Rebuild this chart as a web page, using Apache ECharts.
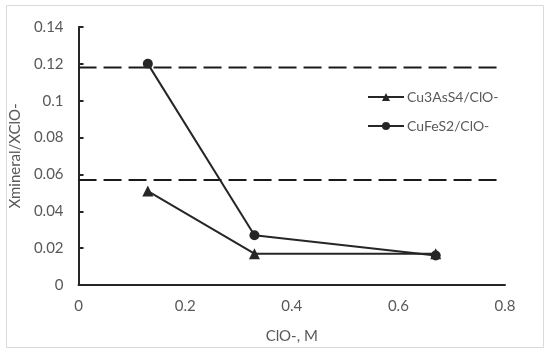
<!DOCTYPE html>
<html><head><meta charset="utf-8">
<script src="https://cdn.jsdelivr.net/npm/echarts@6/dist/echarts.min.js"></script>
<style>html,body{margin:0;padding:0;background:#fff}#c{width:550px;height:353px}</style>
</head><body><div id="c"></div>
<script>
var clo = [0.13, 0.33, 0.67];
var cu3AsS4 = [0.051, 0.017, 0.017];
var cuFeS2 = [0.12, 0.027, 0.016];
var refX = [0, 0.787];
var refUpper = 0.118;
var refLower = 0.057;
var seriesNames = ['Cu3AsS4/ClO-', 'CuFeS2/ClO-'];

function pairs(xs, ys) { return xs.map(function (x, i) { return [x, ys[i]]; }); }
function flat(xs, y) { return xs.map(function (x) { return [x, y]; }); }

var FONT = 'Lato';
var GRAY = '#595959';
var INK = '#262626';

var chart = echarts.init(document.getElementById('c'));
chart.setOption({
  animation: false,
  backgroundColor: '#fff',
  graphic: [{ type: 'rect', shape: { x: 6.5, y: 5.5, width: 537, height: 342 },
    style: { fill: 'none', stroke: '#d9d9d9', lineWidth: 1 }, silent: true }],
  grid: { left: 77, right: 45, top: 27, bottom: 68 },
  legend: {
    orient: 'vertical', left: 362, top: 85, itemWidth: 36, itemHeight: 10, itemGap: 15,
    data: seriesNames,
    textStyle: { fontFamily: FONT, fontSize: 14, color: GRAY, padding: [0, 0, 0, -2] }
  },
  xAxis: {
    type: 'value', min: 0, max: 0.8, interval: 0.2,
    name: 'ClO-, M', nameLocation: 'middle', nameGap: 44,
    nameTextStyle: { fontFamily: FONT, fontSize: 15, color: GRAY },
    axisLine: { show: true, lineStyle: { color: INK, width: 2 } },
    axisTick: { show: false },
    splitLine: { show: false },
    axisLabel: { fontFamily: FONT, fontSize: 15, color: GRAY, margin: 14 }
  },
  yAxis: {
    type: 'value', min: 0, max: 0.14, interval: 0.02,
    name: 'Xmineral/XClO-', nameLocation: 'middle', nameGap: 49,
    nameTextStyle: { fontFamily: FONT, fontSize: 15, color: GRAY },
    axisLine: { show: true, lineStyle: { color: INK, width: 2 } },
    axisTick: { show: true, inside: true, length: 5, lineStyle: { color: INK, width: 2 } },
    splitLine: { show: false },
    axisLabel: { fontFamily: FONT, fontSize: 15, color: GRAY, margin: 15 }
  },
  series: [
    { name: seriesNames[0], type: 'line', data: pairs(clo, cu3AsS4),
      symbol: 'triangle', symbolSize: 11, itemStyle: { color: INK },
      lineStyle: { color: INK, width: 2 }, z: 3 },
    { name: seriesNames[1], type: 'line', data: pairs(clo, cuFeS2),
      symbol: 'circle', symbolSize: 10, itemStyle: { color: INK },
      lineStyle: { color: INK, width: 2 }, z: 4 },
    { name: 'upper', type: 'line', data: flat(refX, refUpper), symbol: 'none',
      lineStyle: { color: '#1a1a1a', width: 2, type: [18, 7] }, silent: true, z: 2 },
    { name: 'lower', type: 'line', data: flat(refX, refLower), symbol: 'none',
      lineStyle: { color: '#1a1a1a', width: 2, type: [18, 7] }, silent: true, z: 2 }
  ]
});
</script></body></html>
